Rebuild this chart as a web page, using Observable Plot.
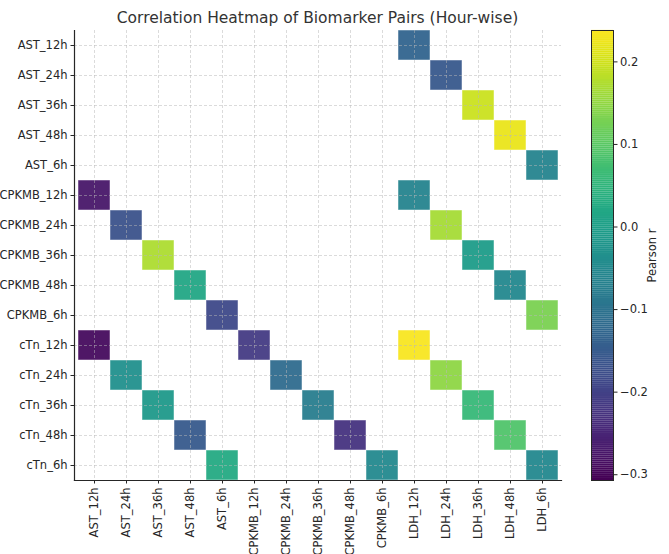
<!DOCTYPE html>
<html>
<head>
<meta charset="utf-8">
<script src="https://cdn.jsdelivr.net/npm/d3@7"></script>
<script src="https://cdn.jsdelivr.net/npm/@observablehq/plot@0.6"></script>
<style>
  html, body { margin: 0; padding: 0; background: white; }
  #wrap { position: relative; width: 669px; height: 554px; font-family: "DejaVu Sans", sans-serif; }
  #title { position: absolute; left: 0; width: 635px; top: 11px; text-align: center; font-size: 15.5px; line-height: 15.5px; color: #333; }
  #main { position: absolute; left: 0; top: 0; }
  #cbar { position: absolute; left: 560px; top: 0; }
</style>
</head>
<body>
<div id="wrap">
  <div id="main"></div>
  <div id="cbar"></div>
  <div id="title">Correlation Heatmap of Biomarker Pairs (Hour-wise)</div>
</div>
<script>
// Categories
const xCats = ["AST_12h","AST_24h","AST_36h","AST_48h","AST_6h",
               "CPKMB_12h","CPKMB_24h","CPKMB_36h","CPKMB_48h","CPKMB_6h",
               "LDH_12h","LDH_24h","LDH_36h","LDH_48h","LDH_6h"];
const yCats = ["AST_12h","AST_24h","AST_36h","AST_48h","AST_6h",
               "CPKMB_12h","CPKMB_24h","CPKMB_36h","CPKMB_48h","CPKMB_6h",
               "cTn_12h","cTn_24h","cTn_36h","cTn_48h","cTn_6h"];

// Cells (row, column, Pearson r)
const pairRows = ["AST_12h","AST_24h","AST_36h","AST_48h","AST_6h",
                  "CPKMB_12h","CPKMB_12h","CPKMB_24h","CPKMB_24h","CPKMB_36h","CPKMB_36h",
                  "CPKMB_48h","CPKMB_48h","CPKMB_6h","CPKMB_6h",
                  "cTn_12h","cTn_12h","cTn_12h","cTn_24h","cTn_24h","cTn_24h",
                  "cTn_36h","cTn_36h","cTn_36h","cTn_48h","cTn_48h","cTn_48h",
                  "cTn_6h","cTn_6h","cTn_6h"];
const pairCols = ["LDH_12h","LDH_24h","LDH_36h","LDH_48h","LDH_6h",
                  "AST_12h","LDH_12h","AST_24h","LDH_24h","AST_36h","LDH_36h",
                  "AST_48h","LDH_48h","AST_6h","LDH_6h",
                  "AST_12h","CPKMB_12h","LDH_12h","AST_24h","CPKMB_24h","LDH_24h",
                  "AST_36h","CPKMB_36h","LDH_36h","AST_48h","CPKMB_48h","LDH_48h",
                  "AST_6h","CPKMB_6h","LDH_6h"];
const pairR = [-0.133, -0.158, 0.194, 0.220, -0.062,
               -0.275, -0.062, -0.170, 0.165, 0.170, -0.008,
               0.018, -0.052, -0.187, 0.128,
               -0.292, -0.212, 0.232, -0.035, -0.117, 0.145,
               -0.014, -0.078, 0.058, -0.155, -0.228, 0.088,
               0.024, -0.050, -0.052];

// Colorbar
const cDomain = [-0.307, 0.238];
const cTicks = [-0.3, -0.2, -0.1, 0.0, 0.1, 0.2];
const cLabel = "Pearson r";

const cells = pairRows.map((r, i) => ({row: r, col: pairCols[i], r: pairR[i]}));
const fmt = d => d.toFixed(1).replace("-", "\u2212");

const main = Plot.plot({
  width: 669, height: 554,
  marginTop: 30, marginBottom: 74, marginLeft: 74, marginRight: 108,
  style: {fontFamily: "DejaVu Sans", fontSize: "11.5px", color: "#262626", background: "transparent", overflow: "visible"},
  x: {domain: xCats, padding: 0, tickRotate: -90, tickSize: 3.5, tickPadding: 3.5, label: null},
  y: {domain: yCats, padding: 0, tickSize: 3.5, tickPadding: 3.5, label: null},
  color: {type: "linear", scheme: "viridis", domain: cDomain},
  marks: [
    Plot.cell(cells, {x: "col", y: "row", fill: "r", stroke: "white", strokeWidth: 0.8, strokeOpacity: 0.6, fillOpacity: 0.95}),
    Plot.gridX({stroke: "#b8b8b8", strokeOpacity: 0.5, strokeDasharray: "3,2"}),
    Plot.gridY({stroke: "#b8b8b8", strokeOpacity: 0.5, strokeDasharray: "3,2"}),
    Plot.frame({anchor: "left", stroke: "#262626", strokeWidth: 1.2}),
    Plot.frame({anchor: "bottom", stroke: "#262626", strokeWidth: 1.2})
  ]
});
document.getElementById("main").appendChild(main);

const nStops = 220;
const step = (cDomain[1] - cDomain[0]) / nStops;
const stops = d3.range(nStops).map(i => cDomain[0] + i * step);

const cbar = Plot.plot({
  width: 109, height: 554,
  marginTop: 30, marginBottom: 74, marginLeft: 31, marginRight: 56,
  style: {fontFamily: "DejaVu Sans", fontSize: "11.5px", color: "#262626", background: "transparent", overflow: "visible"},
  x: {domain: [0, 1], axis: null},
  y: {domain: cDomain, axis: "right", ticks: cTicks, tickFormat: fmt, tickSize: 3.5, tickPadding: 3,
      label: cLabel, labelAnchor: "center", labelArrow: "none", labelOffset: 42},
  color: {type: "linear", scheme: "viridis", domain: cDomain},
  marks: [
    Plot.rect(stops, {x1: 0, x2: 1, y1: d => d, y2: d => d + step * 1.05, fill: d => d}),
    Plot.frame({stroke: "#262626", strokeWidth: 1})
  ]
});
document.getElementById("cbar").appendChild(cbar);
</script>
</body>
</html>
